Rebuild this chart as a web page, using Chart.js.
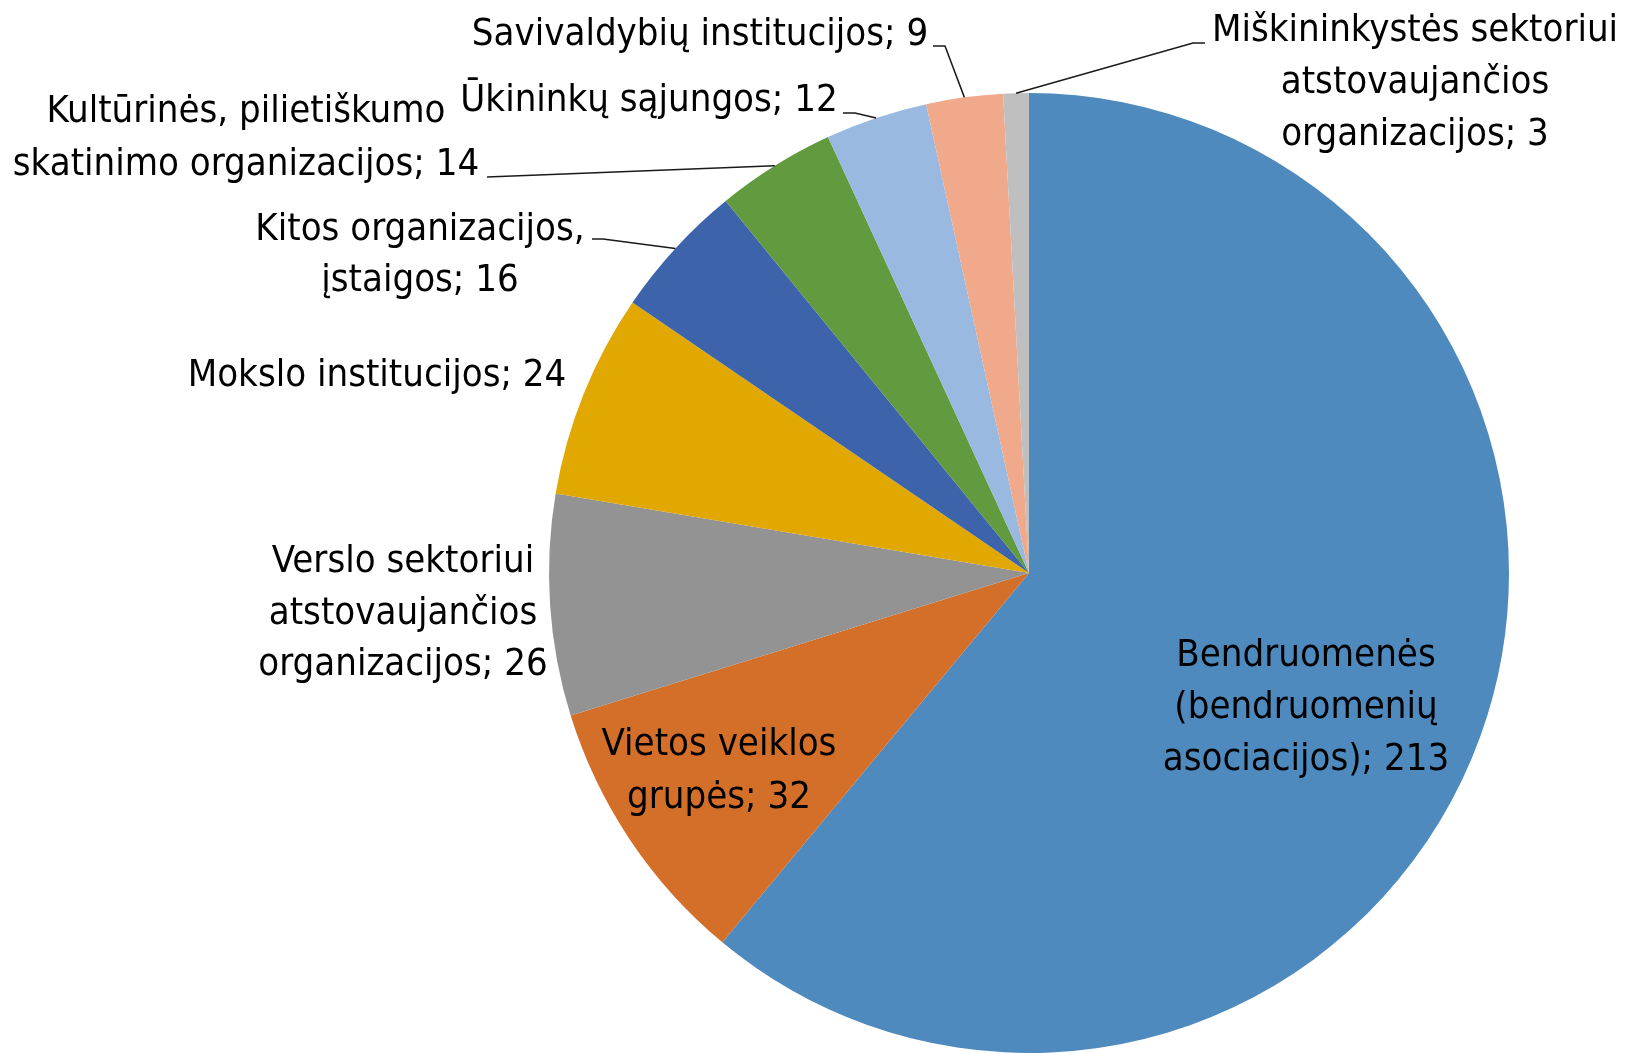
<!DOCTYPE html>
<html>
<head>
<meta charset="utf-8">
<script src="https://cdn.jsdelivr.net/npm/chart.js@4"></script>
<style>
	body{margin:0;background:#fff;}
	canvas{display:block;}
</style>
</head>
<body>
<canvas id="pieChart" width="1629" height="1053"></canvas>
<script>
// categories (line breaks as in the picture)
var categories = [
	["Bendruomenės", "(bendruomenių", "asociacijos)"],
	["Vietos veiklos", "grupės"],
	["Verslo sektoriui", "atstovaujančios", "organizacijos"],
	["Mokslo institucijos"],
	["Kitos organizacijos,", "įstaigos"],
	["Kultūrinės, pilietiškumo", "skatinimo organizacijos"],
	["Ūkininkų sąjungos"],
	["Savivaldybių institucijos"],
	["Miškininkystės sektoriui", "atstovaujančios", "organizacijos"]
];
var values = [213, 32, 26, 24, 16, 14, 12, 9, 3];
var colors = ["#4F8ABE", "#D46F2A", "#939393", "#E0A800", "#3D64AB", "#629A3F", "#9AB9E0", "#F0A98A", "#BFBFBF"];

// where each label sits (centre x, line centres y) and the start of its leader line
var labelLayout = [
	{x: 1306, ys: [656, 708, 760]},
	{x: 719, ys: [745, 798]},
	{x: 403, ys: [562, 614, 665]},
	{x: 377, ys: [376]},
	{x: 420, ys: [230, 281], leader: [[592, 239], [603, 239]]},
	{x: 246, ys: [112, 165], leader: [[487, 177]]},
	{x: 649, ys: [101], leader: [[843, 113], [855, 113]]},
	{x: 700, ys: [35], leader: [[933, 46], [945, 46]]},
	{x: 1415, ys: [31, 83, 135], leader: [[1205, 43], [1193, 43]]}
];

var labelFont = '38px "Liberation Sans Narrow", "DejaVu Sans Condensed", sans-serif';

var labelPlugin = {
	id: 'pieLabels',
	afterDatasetsDraw: function(chart){
		var ctx = chart.ctx;
		var arcs = chart.getDatasetMeta(0).data;
		ctx.save();
		for(let i=0;i<arcs.length;i++){
			let arc = arcs[i];
			let lay = labelLayout[i];
			let lines = categories[i].slice();
			lines[lines.length-1] = lines[lines.length-1] + '; ' + values[i];
			if(lay.leader){
				let mid = (arc.startAngle + arc.endAngle) / 2;
				ctx.beginPath();
				ctx.strokeStyle = '#1a1a1a';
				ctx.lineWidth = 1.5;
				ctx.moveTo(lay.leader[0][0], lay.leader[0][1]);
				for(let p=1;p<lay.leader.length;p++) ctx.lineTo(lay.leader[p][0], lay.leader[p][1]);
				ctx.lineTo(arc.x + arc.outerRadius*Math.cos(mid), arc.y + arc.outerRadius*Math.sin(mid));
				ctx.stroke();
			}
			ctx.fillStyle = '#000';
			ctx.font = labelFont;
			ctx.textAlign = 'center';
			ctx.textBaseline = 'middle';
			for(let l=0;l<lines.length;l++){
				ctx.fillText(lines[l], lay.x, lay.ys[l]);
			}
		}
		ctx.restore();
	}
};

new Chart(document.getElementById('pieChart'), {
	type: 'pie',
	data: {
		labels: categories,
		datasets: [{
			data: values,
			backgroundColor: colors,
			borderWidth: 0
		}]
	},
	options: {
		responsive: false,
		devicePixelRatio: 1,
		animation: false,
		layout: {padding: {left: 549, right: 120, top: 93, bottom: 0}},
		plugins: {
			legend: {display: false},
			tooltip: {enabled: false}
		}
	},
	plugins: [labelPlugin]
});
</script>
</body>
</html>
